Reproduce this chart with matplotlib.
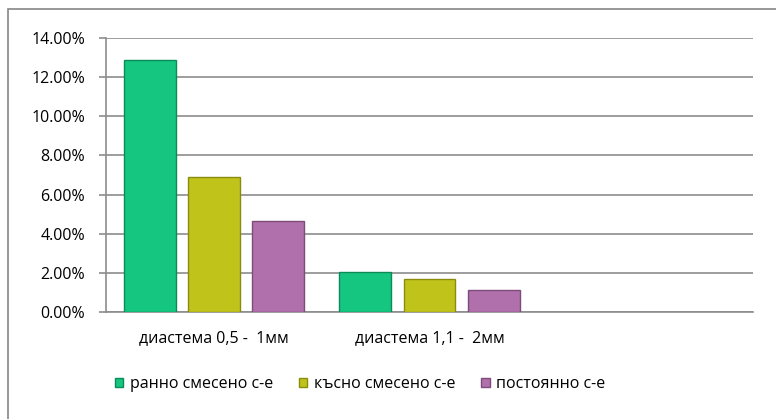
import matplotlib
matplotlib.use("Agg")
import matplotlib.pyplot as plt
import numpy as np
from matplotlib.patches import Rectangle
from matplotlib.ticker import FuncFormatter

plt.rcParams['font.family'] = ['Open Sans', 'DejaVu Sans']

categories = ["диастема 0,5 -  1мм", "диастема 1,1 -  2мм", ""]
series_names = ["ранно смесено с-е", "късно смесено с-е", "постоянно с-е"]
early_mixed = [12.9, 2.06, np.nan]
late_mixed = [6.9, 1.70, np.nan]
permanent = [4.65, 1.11, np.nan]
y_ticks = [0, 2, 4, 6, 8, 10, 12, 14]

face_colors = ["#14C680", "#C0C31A", "#B070AB"]
edge_colors = ["#0E8A58", "#8A8C10", "#7E4C7A"]

fig = plt.figure(figsize=(7.76, 4.19), dpi=100)
fig.patches.append(Rectangle((8 / 776, -0.1), 1.2, 1 - 9 / 419 + 0.1,
                             transform=fig.transFigure, fill=False,
                             edgecolor="#868686", linewidth=1.2))
ax = fig.add_axes([106 / 776, 1 - 312 / 419, (753 - 106) / 776, (312 - 38) / 419])

x = np.arange(len(categories))
width = 0.241
step = 0.297
all_series = [early_mixed, late_mixed, permanent]
handles = []
for i, vals in enumerate(all_series):
    b = ax.bar(x + (i - 1) * step, vals, width, color=face_colors[i],
               edgecolor=edge_colors[i], linewidth=1.0, zorder=3,
               label=series_names[i])
    handles.append(b)

ax.set_xlim(-0.5, 2.5)
ax.set_ylim(0, 14)
ax.set_yticks(y_ticks)
ax.yaxis.set_major_formatter(FuncFormatter(lambda v, p: f"{v:.2f}%"))
ax.set_xticks(x)
ax.set_xticklabels(categories)
ax.grid(axis='y', color="#8C8C8C", linewidth=1.2, zorder=0)
for s in ['top', 'right']:
    ax.spines[s].set_visible(False)
for s in ['left', 'bottom']:
    ax.spines[s].set_color("#8C8C8C")
    ax.spines[s].set_linewidth(1.2)
ax.tick_params(axis='y', length=5, color="#8C8C8C", width=1.2, labelsize=11.5, pad=10)
ax.tick_params(axis='x', length=0, labelsize=11.5, pad=13)

fig.legend(handles=handles, labels=series_names, loc='center',
           bbox_to_anchor=(360 / 776, 1 - 384 / 419), ncol=3, frameon=False,
           fontsize=11.5, handlelength=0.55, handleheight=0.55,
           columnspacing=1.6, handletextpad=0.4)

fig.savefig("out.png", dpi=100, facecolor="white")
